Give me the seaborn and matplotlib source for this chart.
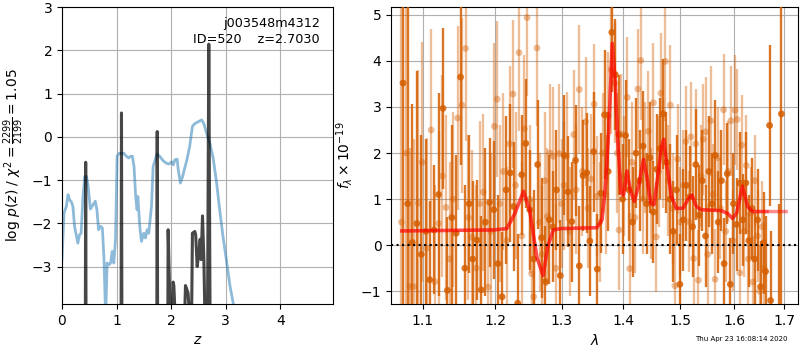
import numpy as np
import pandas as pd
import matplotlib
matplotlib.use("Agg")
import matplotlib.pyplot as plt
from matplotlib.ticker import NullLocator, FixedLocator, FixedFormatter
import seaborn as sns

# ---------------- data: left panel ----------------
chi2_z = [0.0, 0.037, 0.08, 0.11, 0.14, 0.17, 0.2, 0.23, 0.29, 0.32, 0.35, 0.385, 0.416, 0.45,
          0.48, 0.52, 0.57, 0.61, 0.64, 0.67, 0.71, 0.74, 0.77, 0.80, 0.826, 0.86, 0.89, 0.92,
          0.95, 0.98, 1.01, 1.05, 1.09, 1.13, 1.18, 1.22, 1.26, 1.29, 1.32, 1.35, 1.376, 1.39,
          1.425, 1.456, 1.50, 1.53, 1.56, 1.59, 1.64, 1.67, 1.70, 1.74, 1.79, 1.85, 1.91, 1.96,
          2.01, 2.04, 2.07, 2.11, 2.13, 2.17, 2.21, 2.25, 2.29, 2.34, 2.39, 2.43, 2.50, 2.56,
          2.60, 2.65, 2.71, 2.77, 2.83, 2.89, 2.95, 3.02, 3.08, 3.14, 3.20]
chi2_val = [-2.84, -1.76, -1.61, -1.34, -1.46, -1.50, -1.61, -2.07, -2.46, -2.27, -2.23, -1.38,
            -0.92, -0.92, -1.15, -1.67, -1.57, -1.49, -1.69, -2.15, -2.07, -2.11, -2.84, -4.2,
            -2.92, -2.96, -2.92, -2.65, -2.92, -2.38, -0.45, -0.38, -0.39, -0.38, -0.45, -0.49,
            -0.45, -0.45, -0.69, -1.38, -1.69, -1.38, -2.07, -2.42, -2.23, -2.34, -2.15, -2.23,
            -1.61, -0.69, -0.57, -0.40, -0.45, -0.55, -0.61, -0.63, -0.58, -0.65, -0.53, -0.52,
            -0.76, -1.07, -0.92, -0.72, -0.53, -0.22, 0.24, 0.30, 0.35, 0.39, 0.30, 0.08, -0.15,
            -0.49, -1.03, -1.69, -2.30, -2.92, -3.46, -3.86, -4.4]

pz_z = [0.0, 0.425, 0.434, 0.443, 1.080, 1.090, 1.100, 1.735, 1.745, 1.755, 1.935, 1.945,
        1.990, 2.020, 2.037, 2.050, 2.085, 2.240, 2.263, 2.310, 2.355, 2.373, 2.390, 2.434,
        2.450, 2.477, 2.508, 2.532, 2.550, 2.575, 2.600, 2.624, 2.660, 2.690, 2.720, 4.97]
pz_logp = [-6.0, -6.0, -0.59, -6.0, -6.0, 0.55, -6.0, -6.0, 0.12, -6.0, -6.0, -2.15,
           -4.5, -4.5, -3.36, -3.45, -4.5, -4.5, -3.44, -3.61, -4.5, -4.5, -2.23, -2.19,
           -2.27, -3.0, -2.69, -2.37, -2.84, -1.83, -2.84, -4.5, -6.0, 2.14, -6.0, -6.0]

label_text = "j003548m4312\nID=520    z=2.7030"
left_ylabel = r"log $p(z)$ / $\chi^2=\frac{2299}{2199}=1.05$"
left_xticks = [0, 1, 2, 3, 4]
left_yticks = [-3, -2, -1, 0, 1, 2, 3]

# ---------------- data: right panel ----------------
dark_lam = [1.074, 1.080, 1.086, 1.092, 1.098, 1.104, 1.109, 1.115, 1.121, 1.127,
            1.133, 1.139, 1.145, 1.151, 1.157, 1.163, 1.168, 1.174, 1.180, 1.186,
            1.192, 1.198, 1.204, 1.210, 1.216, 1.222, 1.227, 1.233, 1.239, 1.245,
            1.251, 1.257, 1.263, 1.269, 1.275, 1.281, 1.286, 1.292, 1.298, 1.304,
            1.310, 1.316, 1.322, 1.328, 1.334, 1.340, 1.345, 1.351, 1.357, 1.363,
            1.369, 1.375, 1.381, 1.387, 1.393, 1.399, 1.404, 1.410, 1.416, 1.422,
            1.428, 1.434, 1.440, 1.446, 1.452, 1.458, 1.463, 1.469, 1.475, 1.481,
            1.487, 1.493, 1.499, 1.505, 1.511, 1.517, 1.522, 1.528, 1.534, 1.540,
            1.546, 1.552, 1.558, 1.564, 1.570, 1.576, 1.581, 1.587, 1.593, 1.599,
            1.605, 1.611, 1.617, 1.623, 1.629, 1.635, 1.640, 1.646, 1.652, 1.658,
            1.662, 1.670, 1.672, 1.690, 1.694]
dark_flux = [3.52, 0.9, 0.06, 0.47, -0.2, 0.30, -0.75, 0.33, 1.1, 2.97,
             -0.98, 0.6, 0.26, 3.65, -0.5, 0.9, -0.3, 0.11, -0.97, 0.5,
             0.93, 0.77, -0.4, -1.12, 1.2, 1.57, 0.84, -1.26, 1.53, 2.21,
             0.77, -0.3, 1.75, 0.16, -0.79, 0.55, 0.4, 1.2, -0.66, 1.95,
             1.16, 0.51, 1.84, -0.45, 1.51, 1.57, 0.09, 2.03, -0.52, 1.13,
             2.83, 1.6, 4.62, 3.7, 2.4, 1.0, 2.38, 1.2, 0.5, 2.0,
             1.4, 2.15, 0.9, 1.9, 0.72, 1.65, 2.1, 2.85, 1.8, 1.0,
             0.3, 1.2, -0.85, 0.55, 1.3, 1.05, 0.4, 1.75, 0.65, 1.4,
             0.2, 1.6, 0.9, 1.95, 0.5, 1.4, -0.4, 1.55, -0.85, 0.9,
             0.45, 1.35, 0.55, 1.35, 0.1, 0.8, -0.3, 0.55, -0.9, 0.05,
             -0.57, 2.6, -1.2, -1.6, 2.85]
dark_err = [8.0, 7.0, 3.0, 3.3, 2.6, 2.0, 1.7, 1.4, 2.2, 1.75,
            1.6, 2.0, 1.7, 1.9, 1.8, 1.5, 1.7, 1.3, 1.6, 1.6,
            1.4, 1.5, 1.5, 1.4, 1.6, 1.5, 1.4, 1.5, 1.3, 1.4,
            1.3, 1.5, 1.4, 1.3, 1.2, 1.4, 1.2, 1.3, 1.2, 1.3,
            1.2, 1.3, 1.2, 1.3, 1.2, 1.3, 1.2, 1.3, 1.2, 1.3,
            1.4, 1.3, 1.3, 1.2, 1.3, 1.2, 1.2, 1.1, 1.2, 1.2,
            1.1, 1.2, 1.1, 1.2, 1.1, 1.2, 1.1, 1.2, 1.1, 1.2,
            1.1, 1.2, 1.1, 1.1, 1.2, 1.1, 1.1, 1.2, 1.1, 1.1,
            1.1, 1.2, 1.1, 1.2, 1.1, 1.1, 1.0, 1.1, 1.0, 1.1,
            1.0, 1.1, 1.0, 1.1, 1.0, 1.1, 1.0, 1.1, 1.0, 1.1,
            1.2, 1.75, 1.5, 2.5, 6.0]

light_lam = [1.072, 1.078, 1.083, 1.088, 1.094, 1.099, 1.105, 1.111, 1.116, 1.121,
             1.126, 1.131, 1.136, 1.141, 1.147, 1.153, 1.158, 1.162, 1.167, 1.173,
             1.178, 1.183, 1.190, 1.194, 1.199, 1.203, 1.207, 1.212, 1.217, 1.221,
             1.226, 1.230, 1.235, 1.239, 1.243, 1.247, 1.251, 1.254, 1.257, 1.262,
             1.266, 1.270, 1.274, 1.278, 1.282, 1.287, 1.291, 1.296, 1.300, 1.304,
             1.308, 1.313, 1.319, 1.323, 1.328, 1.333, 1.338, 1.342, 1.347, 1.352,
             1.356, 1.361, 1.366, 1.371, 1.375, 1.380, 1.386, 1.390, 1.393, 1.397,
             1.402, 1.407, 1.411, 1.415, 1.420, 1.425, 1.430, 1.434, 1.438, 1.443,
             1.448, 1.452, 1.457, 1.461, 1.465, 1.469, 1.473, 1.478, 1.482, 1.486,
             1.490, 1.495, 1.500, 1.505, 1.510, 1.515, 1.519, 1.524, 1.528, 1.533,
             1.538, 1.542, 1.546, 1.550, 1.556, 1.560, 1.564, 1.569, 1.574, 1.580,
             1.584, 1.589, 1.594, 1.598, 1.602, 1.606, 1.611, 1.615, 1.620, 1.624,
             1.628, 1.633, 1.637, 1.641, 1.646, 1.650, 1.655, 1.659]
light_flux = [0.5, 2.0, -0.9, -0.9, 0.91, 1.8, -0.07, 2.5, -0.79, 0.47,
              1.5, 0.82, -0.3, 1.0, 2.76, 3.04, 4.27, 0.6, 0.17, -0.5,
              0.9, 1.15, -0.91, 0.3, 2.58, 3.17, 0.9, 1.6, 0.1, 2.2,
              3.28, 1.3, 4.18, 0.2, 2.53, 4.94, 1.0, -0.62, -1.12, 4.28,
              0.5, -0.2, 1.4, 0.62, 2.0, 1.93, -0.5, 1.99, 0.9, 1.3,
              1.93, 0.3, 2.4, 1.2, 3.38, 1.6, 2.68, 0.8, 1.44, 3.06,
              1.06, 0.5, 2.0, 1.1, 2.8, 3.81, 3.52, 2.0, 0.33, 2.41,
              1.5, 3.21, -0.51, 1.8, 0.6, 3.39, 4.01, 1.0, 1.9, 2.47,
              0.9, 3.09, 0.18, 1.6, 3.3, 2.0, 3.99, 1.4, 3.04, 0.8,
              -0.88, 1.87, 0.5, 1.3, 2.25, 0.51, 2.35, -0.29, 2.2, -0.76,
              1.5, 2.3, 2.46, -0.2, 2.7, 1.1, -0.74, 1.9, 0.8, 2.94,
              0.3, 1.6, 2.7, 0.1, 2.93, 2.73, -0.6, 2.17, 0.3, 1.73,
              -0.3, 0.7, -0.8, 1.4, 0.2, -1.0, 0.4, -0.5]
light_err = [5.5, 4.5, 3.0, 3.2, 2.9, 2.6, 2.4, 2.2, 2.1, 2.0,
             2.2, 2.0, 2.1, 1.9, 2.0, 1.9, 2.0, 1.8, 1.9, 1.8,
             1.8, 1.7, 1.8, 1.7, 1.8, 1.7, 1.7, 1.7, 1.6, 1.7,
             1.6, 1.6, 1.7, 1.6, 1.6, 1.7, 1.6, 1.6, 1.6, 1.7,
             1.5, 1.5, 1.5, 1.5, 1.5, 1.5, 1.4, 1.5, 1.4, 1.4,
             1.4, 1.4, 1.4, 1.4, 1.4, 1.4, 1.4, 1.3, 1.4, 1.3,
             1.3, 1.3, 1.3, 1.3, 1.4, 1.4, 1.3, 1.3, 1.3, 1.3,
             1.3, 1.3, 1.2, 1.3, 1.2, 1.3, 1.3, 1.2, 1.2, 1.3,
             1.2, 1.3, 1.2, 1.2, 1.3, 1.2, 1.3, 1.2, 1.3, 1.2,
             1.2, 1.2, 1.2, 1.2, 1.2, 1.1, 1.2, 1.1, 1.2, 1.1,
             1.1, 1.2, 1.2, 1.1, 1.2, 1.1, 1.1, 1.1, 1.1, 1.2,
             1.1, 1.1, 1.2, 1.1, 1.2, 1.1, 1.0, 1.1, 1.0, 1.1,
             1.0, 1.0, 1.0, 1.0, 1.0, 1.0, 1.0, 1.0]

model_lam = [1.0725, 1.1976, 1.217, 1.229, 1.2417, 1.2508, 1.2618, 1.2713, 1.2784, 1.2868,
             1.298, 1.3565, 1.3648, 1.3704, 1.3757, 1.3818, 1.3868, 1.3907, 1.3964, 1.4008,
             1.4065, 1.412, 1.4188, 1.4262, 1.4347, 1.4404, 1.4473, 1.453, 1.4605, 1.4663,
             1.4704, 1.475, 1.4838, 1.4927, 1.5046, 1.5136, 1.5209, 1.529, 1.538, 1.575,
             1.5877, 1.597, 1.6048, 1.6164, 1.6262, 1.636, 1.665, 1.7036]
model_flux = [0.31, 0.33, 0.36, 0.69, 1.17, 0.77, -0.26, -0.66, -0.04, 0.33,
              0.36, 0.38, 0.55, 1.28, 2.45, 4.38, 3.54, 2.30, 1.13, 1.09,
              1.61, 1.20, 0.95, 1.28, 1.86, 1.50, 0.91, 0.88, 1.57, 2.15,
              2.30, 1.79, 1.06, 0.80, 0.80, 0.99, 1.09, 0.84, 0.77, 0.75,
              0.69, 0.58, 0.69, 1.28, 0.84, 0.73, 0.73, 0.73]
model2_end = 1.665

right_xticks = [1.1, 1.2, 1.3, 1.4, 1.5, 1.6, 1.7]
right_xticklabels = ["1.1", "1.2", "1.3", "1.4", "1.5", "1.6", "1.7"]
right_yticks = [-1, 0, 1, 2, 3, 4, 5]
timestamp = "Thu Apr 23 16:08:14 2020"

# ---------------- plotting ----------------
plt.rcParams['font.family'] = ['DejaVu Sans']
fig = plt.figure(figsize=(8, 3.5), dpi=100)
ax1 = fig.add_axes([0.0775, 0.131, 0.339, 0.849])
ax2 = fig.add_axes([0.489, 0.131, 0.509, 0.849])

chi_df = pd.DataFrame({"z": chi2_z, "v": chi2_val})
pz_df = pd.DataFrame({"z": pz_z, "v": pz_logp})
sns.lineplot(data=chi_df, x="z", y="v", ax=ax1, color="#1f77b4", alpha=0.5, lw=2,
             sort=False, estimator=None)
sns.lineplot(data=pz_df, x="z", y="v", ax=ax1, color="k", alpha=0.72, lw=2.2,
             sort=False, estimator=None)
ax1.set_xlim(0, 4.97)
ax1.set_ylim(-3.87, 3.0)
ax1.set_xticks(left_xticks)
ax1.set_yticks(left_yticks)
ax1.grid(True, color="#b0b0b0", lw=0.8)
ax1.set_xlabel("$z$")
ax1.set_ylabel(left_ylabel)
ax1.text(0.95, 0.965, label_text, ha="right", va="top", transform=ax1.transAxes,
         fontsize=9.2, linespacing=1.25)

vcol = "#d55e00"
ax2.errorbar(light_lam, light_flux, yerr=light_err, fmt="none", ecolor=vcol,
             elinewidth=1.7, alpha=0.4, zorder=2)
sns.scatterplot(x=light_lam, y=light_flux, ax=ax2, color=vcol, alpha=0.4, s=24,
                edgecolor="none", zorder=2)
ax2.errorbar(dark_lam, dark_flux, yerr=dark_err, fmt="none", ecolor=vcol,
             elinewidth=1.7, alpha=0.85, zorder=3)
sns.scatterplot(x=dark_lam, y=dark_flux, ax=ax2, color=vcol, alpha=0.85, s=24,
                edgecolor="none", zorder=3)

m_df = pd.DataFrame({"lam": model_lam, "f": model_flux})
m2_df = m_df[m_df["lam"] <= model2_end]
sns.lineplot(data=m_df, x="lam", y="f", ax=ax2, color="r", alpha=0.45, lw=2.5,
             sort=False, estimator=None, zorder=5)
sns.lineplot(data=m2_df, x="lam", y="f", ax=ax2, color="r", alpha=0.45, lw=2.5,
             sort=False, estimator=None, zorder=5)
ax2.axhline(0, color="k", linestyle=":", lw=1.5, zorder=6)

ax2.set_xscale("log")
ax2.set_xlim(1.0588, 1.729)
ax2.set_ylim(-1.28, 5.17)
ax2.xaxis.set_major_locator(FixedLocator(right_xticks))
ax2.xaxis.set_major_formatter(FixedFormatter(right_xticklabels))
ax2.xaxis.set_minor_locator(NullLocator())
ax2.set_yticks(right_yticks)
ax2.grid(True, color="#b0b0b0", lw=0.8)
ax2.set_xlabel(r"$\lambda$")
ax2.set_ylabel(r"$f_\lambda \times 10^{-19}$")

fig.text(0.984, 0.031, timestamp, ha="right", va="center", fontsize=5)

fig.savefig("out.png", dpi=100)
